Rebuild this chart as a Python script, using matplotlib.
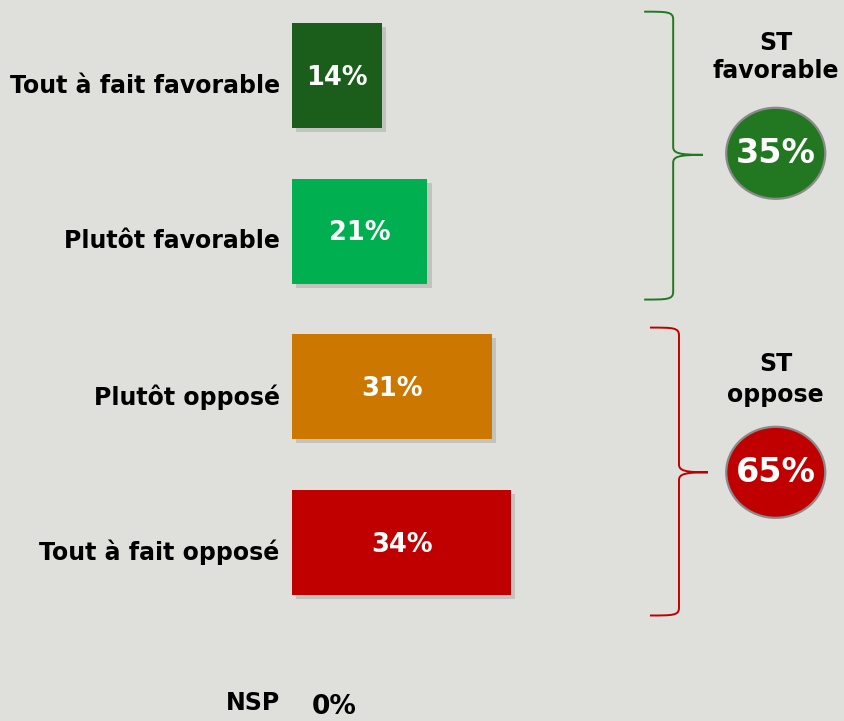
import matplotlib.pyplot as plt
import matplotlib.patheffects as pe
from matplotlib.patches import Ellipse, PathPatch
from matplotlib.path import Path

categories = ["Tout à fait favorable", "Plutôt favorable", "Plutôt opposé", "Tout à fait opposé", "NSP"]
values = [14, 21, 31, 34, 0]
colors = ["#1b5e1b", "#00b050", "#cc7700", "#c00000", "#c00000"]

groups = ["ST\nfavorable", "ST\noppose"]
group_members = [[0, 1], [2, 3]]
group_colors = ["#217821", "#c00000"]

bg = "#dfe0db"

fig = plt.figure(figsize=(8.45, 7.21), dpi=100, facecolor=bg)
ax = fig.add_axes([0, 0, 1, 1])
ax.set_facecolor(bg)
ax.set_xlim(-45.27, 85.74)
ax.set_ylim(4.148, -0.485)
ax.axis("off")

shadow = [pe.SimplePatchShadow(offset=(3, -3), shadow_rgbFace="#808080", alpha=0.3), pe.Normal()]

ypos = list(range(len(categories)))
bars = ax.barh(ypos[:4], values[:4], height=0.675, color=colors[:4])
for b in bars:
    b.set_path_effects(shadow)

for i, (cat, v) in enumerate(zip(categories, values)):
    if i < 4:
        ax.text(-1.9, i + 0.065, cat, ha="right", va="center", fontsize=17, fontweight="bold", color="black")
        ax.text(v / 2, i + 0.015, f"{v}%", ha="center", va="center", fontsize=18.5, fontweight="bold", color="white")
    else:
        ax.text(-1.9, i + 0.03, cat, ha="right", va="center", fontsize=17, fontweight="bold", color="black")
        ax.text(3, i + 0.06, f"{v}%", ha="left", va="center", fontsize=19, fontweight="bold", color="black")


def brace(x0, xv, xt, top, bottom, ym, color):
    dx = 3.0
    dy = 0.05
    verts = [
        (x0, top),
        (xv - dx * 0.3, top), (xv, top), (xv, top + dy),
        (xv, ym - dy),
        (xv, ym - dy * 0.2), (xv + 1.0, ym), (xt, ym),
        (xv + 1.0, ym), (xv, ym + dy * 0.2), (xv, ym + dy),
        (xv, bottom - dy),
        (xv, bottom), (xv - dx * 0.3, bottom), (x0, bottom),
    ]
    codes = [Path.MOVETO,
             Path.CURVE4, Path.CURVE4, Path.CURVE4,
             Path.LINETO,
             Path.CURVE4, Path.CURVE4, Path.CURVE4,
             Path.CURVE4, Path.CURVE4, Path.CURVE4,
             Path.LINETO,
             Path.CURVE4, Path.CURVE4, Path.CURVE4]
    ax.add_patch(PathPatch(Path(verts, codes), facecolor="none", edgecolor=color, lw=1.4))


brace_geom = [
    dict(x0=54.6, xv=59.1, xt=63.7, top=-0.41, bottom=1.44, ym=0.51),
    dict(x0=55.5, xv=60.0, xt=64.5, top=1.62, bottom=3.47, ym=2.55),
]
label_y = [-0.119, 1.955]
label_ls = [1.2, 1.35]
circle_y = [0.50, 2.55]

for g, members, col, geom, ly, ls, cy in zip(groups, group_members, group_colors, brace_geom, label_y, label_ls, circle_y):
    brace(color=col, **geom)
    total = sum(values[m] for m in members)
    ax.text(75.0, ly, g, ha="center", va="center", fontsize=17, fontweight="bold",
            color="black", linespacing=ls)
    ax.add_patch(Ellipse((75.0, cy), 15.35, 0.585, facecolor=col, edgecolor="#8a8a8a", lw=1.6))
    ax.text(75.0, cy, f"{total}%", ha="center", va="center", fontsize=24, fontweight="bold", color="white")

fig.savefig("out.png", dpi=100, facecolor=bg)
